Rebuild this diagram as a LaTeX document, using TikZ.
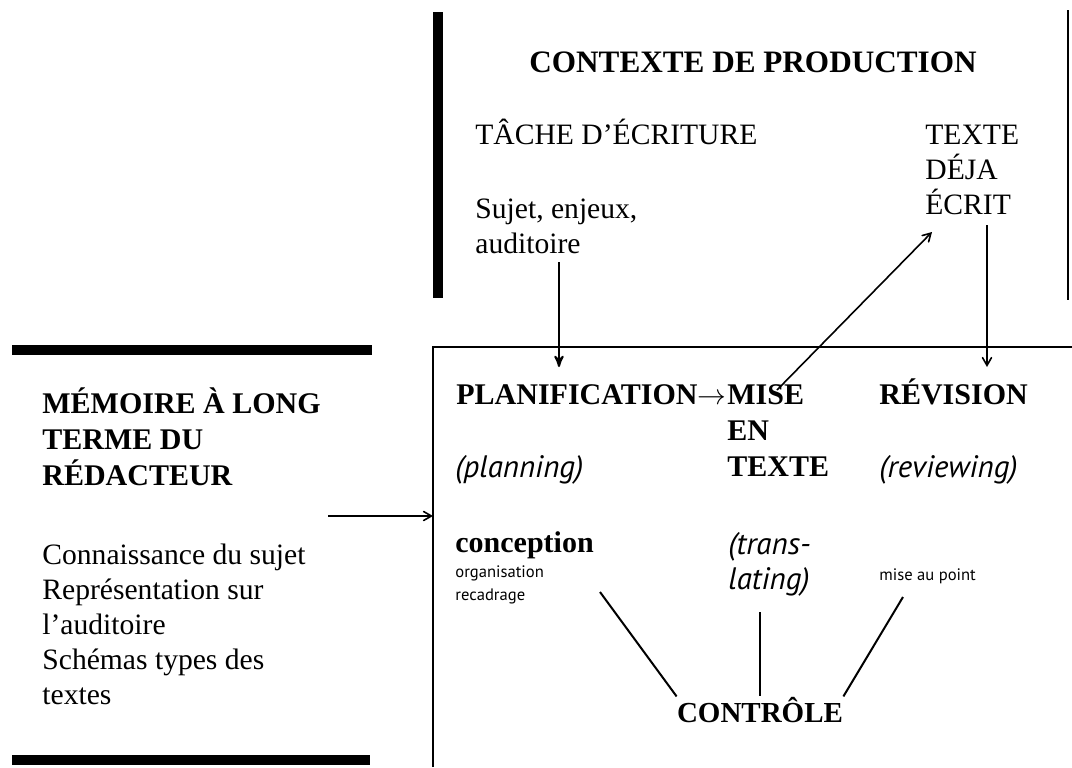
\documentclass[tikz,border=0pt]{standalone}
\usepackage{fontspec}
\setmainfont{Liberation Serif}
\newfontfamily\glossfont{PT Sans}
\usetikzlibrary{arrows,positioning,calc}

\tikzset{
  head/.style={font=\fontsize{15}{18}\selectfont\bfseries,anchor=base west,inner sep=0pt,align=left},
  txt/.style={font=\fontsize{14.8}{17.5}\selectfont,anchor=base west,inner sep=0pt,align=left},
  gloss/.style={font=\glossfont\itshape\fontsize{15.5}{17.5}\selectfont,anchor=base west,inner sep=0pt,align=left},
  small/.style={font=\glossfont\fontsize{8.3}{11.5}\selectfont,anchor=base west,inner sep=0pt,align=left},
  bar/.style={line width=5pt},
  link/.style={line width=1pt},
  arr/.style={line width=0.8pt,->,>=angle 60},
}

\begin{document}
\begin{tikzpicture}[x=0.5pt,y=-0.5pt]
	\useasboundingbox (0,0) rectangle (1072,767);
	% contexte de production
	\draw[bar] (438,12) -- (438,298);
	\draw[line width=0.8pt] (1068,10) -- (1068,300);
	\node[head,anchor=base,font=\fontsize{15.6}{18}\selectfont\bfseries] (ctx) at (753,72) {CONTEXTE DE PRODUCTION};
	\node[txt] (tache) at (475,144) {TÂCHE D’ÉCRITURE};
	\node[txt] (sujet) at (475,253) {Sujet, enjeux,\\auditoire};
	\node[txt] (deja) at (925,214) {TEXTE\\DÉJA\\ÉCRIT};
	% memoire
	\draw[bar] (12,350) -- (372,350);
	\draw[bar] (12,760) -- (370,760);
	\node[head] (mem) at (42,485) {MÉMOIRE À LONG\\TERME DU\\RÉDACTEUR};
	\node[txt] (conn) at (42,704) {Connaissance du sujet\\Représentation sur\\l’auditoire\\Schémas types des\\textes};
	% processus
	\coordinate (bsw) at (433,767);
	\coordinate (bnw) at (433,347);
	\coordinate (bne) at (1072,347);
	\draw[line width=1.2pt] (bsw) -- (bnw) -- (bne);
	\node[head] (plan) at (456,404) {PLANIFICATION$\rightarrow$};
	\node[head] (mise) at (727,476) {MISE\\EN\\TEXTE};
	\node[head] (rev) at (879,404) {RÉVISION};
	\node[gloss] (planning) at (455,477) {(planning)};
	\node[gloss] (reviewing) at (879,477) {(reviewing)};
	\node[head] (concep) at (455,552) {conception};
	\node[gloss] (transl) at (728,589) {(trans-\\lating)};
	\node[small] (orga) at (455,600) {organisation\\recadrage};
	\node[small] (point) at (879,580) {mise au point};
	\node[head,anchor=base,font=\fontsize{14.5}{17}\selectfont\bfseries] (ctrl) at (760,722) {CONTRÔLE};
	% fleches
	\coordinate (aud) at (559,262);
	\coordinate (planin) at (559,367);
	\draw[arr,line width=1pt,>=stealth'] (aud) -- (planin);
	\coordinate (ecrit) at (987,225);
	\coordinate (revin) at (987,367);
	\draw[arr] (ecrit) -- (revin);
	\coordinate (miseout) at (777,390);
	\coordinate (dejain) at (932,232);
	\draw[arr] (miseout) -- (dejain);
	\coordinate (memout) at (328,516);
	\coordinate (boxin) at (433,516);
	\draw[arr] (memout) -- (boxin);
	% controle
	\coordinate (c1) at (600,592);
	\coordinate (c2) at (760,612);
	\coordinate (c3) at (903,597);
	\draw[link] (c1) -- (ctrl.north west);
	\draw[link] (c2) -- (ctrl.north);
	\draw[link] (c3) -- (ctrl.north east);
\end{tikzpicture}
\end{document}
